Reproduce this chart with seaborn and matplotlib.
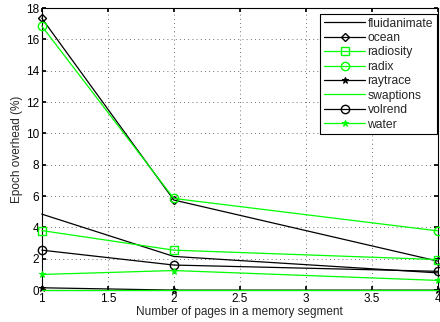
import matplotlib
matplotlib.use("Agg")
import matplotlib.pyplot as plt
import seaborn as sns
import pandas as pd
import numpy as np

pages = [1, 2, 4]
fluidanimate = [4.85, 2.15, 1.1]
ocean = [17.35, 5.75, 1.85]
radiosity = [3.8, 2.55, 1.95]
radix = [16.85, 5.85, 3.78]
raytrace = [0.15, 0.0, 0.0]
swaptions = [0.0, 0.0, 0.0]
volrend = [2.55, 1.6, 1.2]
water = [1.0, 1.25, 0.62]

series = {
    "fluidanimate": fluidanimate,
    "ocean": ocean,
    "radiosity": radiosity,
    "radix": radix,
    "raytrace": raytrace,
    "swaptions": swaptions,
    "volrend": volrend,
    "water": water,
}

G = (0, 1, 0)
K = "black"
styles = {
    "fluidanimate": dict(color=K, marker=None),
    "ocean": dict(color=K, marker="D", ms=4.5),
    "radiosity": dict(color=G, marker="s", ms=6),
    "radix": dict(color=G, marker="o", ms=6),
    "raytrace": dict(color=K, marker="*", ms=5),
    "swaptions": dict(color=G, marker=None),
    "volrend": dict(color=K, marker="o", ms=6),
    "water": dict(color=G, marker="*", ms=5),
}

sns.set_theme(style="white")
plt.rcParams["font.family"] = ["Liberation Sans", "DejaVu Sans"]

fig = plt.figure(figsize=(4.4, 3.22), dpi=100)
ax = fig.add_axes([0.095, 0.099, 0.9, 0.876])

rows = []
for name, vals in series.items():
    for x, y in zip(pages, vals):
        rows.append(dict(pages=x, value=y, bench=name))
df = pd.DataFrame(rows)

for name in series:
    st = styles[name]
    sub = df[df.bench == name]
    kw = dict(color=st["color"], linewidth=0.9, label=name, zorder=3)
    if st["marker"] is not None:
        if st["marker"] == "*":
            kw.update(marker="*", markersize=st["ms"], markerfacecolor=st["color"],
                      markeredgecolor=st["color"])
        else:
            kw.update(marker=st["marker"], markersize=st["ms"], markerfacecolor="none",
                      markeredgecolor=st["color"], markeredgewidth=1.0)
    sns.lineplot(data=sub, x="pages", y="value", ax=ax, clip_on=False, **kw)

ax.set_xlim(1, 4)
ax.set_ylim(0, 18)
ax.set_xticks(np.arange(1, 4.01, 0.5))
ax.set_xticklabels(["1", "1.5", "2", "2.5", "3", "3.5", "4"])
ax.set_yticks(np.arange(0, 18.1, 2))
ax.grid(True, linestyle=(0, (1, 4)), color="#444444", linewidth=0.6)
ax.tick_params(direction="in", length=3, labelsize=8.5, top=True, right=True,
               bottom=True, left=True, pad=2, colors="black")
for s in ax.spines.values():
    s.set_color("black")
    s.set_linewidth(0.8)
ax.set_xlabel("Number of pages in a memory segment", fontsize=8.5, labelpad=1)
ax.set_ylabel("Epoch overhead (%)", fontsize=8.5, labelpad=2)

leg = ax.legend(loc="upper right", bbox_to_anchor=(0.997, 0.979), borderaxespad=0,
                fontsize=8.7, handlelength=3.4, handletextpad=0.2,
                labelspacing=0.2, fancybox=False, framealpha=1,
                edgecolor="black", borderpad=0.3)
leg.get_frame().set_linewidth(0.8)
leg.set_zorder(5)

fig.savefig("out.png", dpi=100)
